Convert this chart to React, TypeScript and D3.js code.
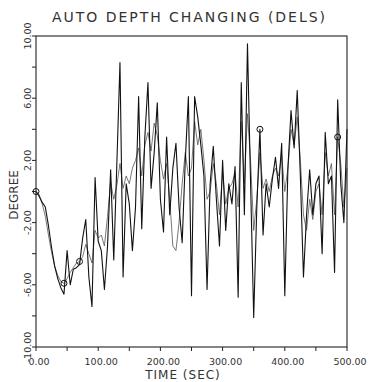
import * as d3 from 'd3';

// sampled every 5 s, 0..500
const TIMES = d3.range(0, 505, 5);

const DELS_A = [
  0, -0.3, -0.7, -1.0, -2.2, -3.6, -4.8, -5.6, -6.2, -6.6,
  -3.8, -6.0, -5.0, -4.9, -4.7, -3.0, -1.8, -5.5, -7.4, 0.9,
  -3.2, -3.8, -6.3, -3.5, 1.4, -4.4, 1.8, 8.3, -5.5, 0.5,
  -0.8, -3.8, -1.0, 6.1, -2.4, 3.5, 7.0, 0.2, 2.5, 5.7,
  -0.5, -2.6, 3.5, -1.5, 1.5, 3.1, -1.0, -3.3, 2.0, 6.1,
  -6.7, 6.1, 4.8, 3.0, 1.0, -6.3, 0.5, 2.9, -0.5, -3.5,
  2.0, -2.5, 0.5, -0.8, 1.6, -6.8, 7.0, -1.5, 9.5, 0.5,
  -8.1, -1.0, 4.0, -2.8, 0.5, -1.0, 0.8, 2.2, 0.2, 3.1,
  -6.7, 1.5, 5.2, 2.8, 6.5, 1.0, -5.5, -1.5, 1.4, -1.5,
  0.5, 1.0, -4.0, 3.8, 0.5, 1.0, -5.2, 5.9, 0.5, -2.0,
  4.0,
];

const DELS_B = [
  0, -0.2, -0.8, -1.6, -2.8, -3.9, -4.8, -5.4, -5.8, -5.9,
  -5.6, -5.2, -4.9, -4.6, -4.5, -4.2, -3.4, -4.0, -4.6, -2.5,
  -3.0, -2.8, -3.5, -1.6, 0.6, -0.5, 0.4, 1.8, 0.2, 1.0,
  0.5, 1.5, 2.0, 2.8, 1.0, 3.0, 3.8, 2.6, 4.4, 3.6,
  2.0, 0.8, 1.8, -0.5, -3.5, -3.8, -2.0, 0.5, 2.5, 1.0,
  1.5, 4.5, 3.0, 4.0, 2.0, -0.5, 0.0, 1.8, 0.5, -1.5,
  1.2, -0.8, 0.2, 0.5, 1.2, -1.0, 4.5, 0.5, 5.0, 2.0,
  -2.5, -0.5, 2.5, 0.2, 0.8, 0.0, 1.0, 1.5, 1.0, 2.3,
  0.0, 1.5, 4.0, 3.0, 4.8, 2.0, -1.5, -2.5, -0.5, -1.8,
  0.0, 0.5, -1.5, 2.5, 1.0, 1.8, -1.5, 3.5, 1.8, -1.0,
  1.5,
];

// plot symbols drawn on the curves (index into TIMES)
const MARKS_A = [0, 72];
const MARKS_B = [9, 14, 97];

const X_TICKS = d3.range(0, 550, 50);
const X_LABELS = [0, 100, 200, 300, 400, 500];
const Y_TICKS = d3.range(-10, 12, 2);
const Y_LABELS = [-10, -6, -2, 2, 6, 10];

const W = 376;
const H = 382;
const font = '"DejaVu Sans", sans-serif';
const ink = '#222';

export default function App() {
  const x = d3.scaleLinear().domain([0, 500]).range([36, 347]);
  const y = d3.scaleLinear().domain([-10, 10]).range([347, 36]);

  const line = d3.line<number>()
    .x((_, i) => x(TIMES[i]))
    .y((d) => y(d));

  return (
    <svg width={W} height={H} style={{ position: 'fixed', left: 0, top: 0, background: '#fff' }}>
      <text x={52} y={22} fontFamily={font} fontSize={14} fill="#333" textLength={273} lengthAdjust="spacing">
        AUTO DEPTH CHANGING (DELS)
      </text>

      <path d={line(DELS_B) ?? ''} fill="none" stroke="#555" strokeWidth={0.8} />
      <path d={line(DELS_A) ?? ''} fill="none" stroke="#111" strokeWidth={1.1} strokeLinejoin="round" />

      {MARKS_A.map((i) => (
        <circle key={`a${i}`} cx={x(TIMES[i])} cy={y(DELS_A[i])} r={3} fill="none" stroke="#111" strokeWidth={1} />
      ))}
      {MARKS_B.map((i) => (
        <circle key={`b${i}`} cx={x(TIMES[i])} cy={y(DELS_B[i])} r={3} fill="none" stroke="#111" strokeWidth={1} />
      ))}

      <rect x={36} y={36} width={311} height={311} fill="none" stroke={ink} strokeWidth={1.1} />

      {X_TICKS.map((t) => (
        <line key={`xt${t}`} x1={x(t)} x2={x(t)} y1={347} y2={351} stroke={ink} strokeWidth={1} />
      ))}
      {X_LABELS.map((t) => (
        <text key={`xl${t}`} x={x(t) + 3} y={365} textAnchor="middle" fontFamily={font} fontSize={9.5} fill="#333">
          {t.toFixed(2)}
        </text>
      ))}

      {Y_TICKS.map((v) => (
        <line key={`yt${v}`} x1={32} x2={36} y1={y(v)} y2={y(v)} stroke={ink} strokeWidth={1} />
      ))}
      {Y_LABELS.map((v) => (
        <text
          key={`yl${v}`}
          transform={`translate(31, ${y(v)}) rotate(-90)`}
          textAnchor="middle"
          fontFamily={font}
          fontSize={9.5}
          fill="#333"
        >
          {v.toFixed(2)}
        </text>
      ))}

      <text transform="translate(18, 195) rotate(-90)" textAnchor="middle" fontFamily={font} fontSize={12} fill="#333">
        DEGREE
      </text>
      <text x={183} y={379} textAnchor="middle" fontFamily={font} fontSize={12} fill="#333" letterSpacing={1}>
        TIME (SEC)
      </text>
    </svg>
  );
}
